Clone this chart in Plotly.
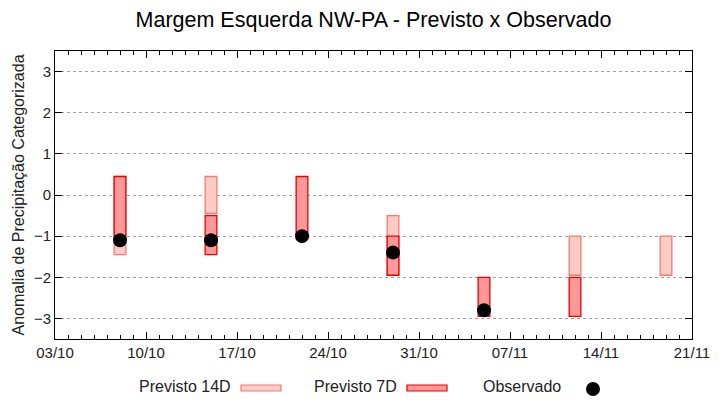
import plotly.graph_objects as go

# Data
dates = ["2023-10-08", "2023-10-15", "2023-10-22", "2023-10-29", "2023-11-05", "2023-11-12", "2023-11-19"]
prev14_low = [-1.45, -0.45, None, -1.95, None, -1.95, -1.95]
prev14_high = [0.45, 0.45, None, -0.5, None, -1.0, -1.0]
prev7_low = [-1.0, -1.45, -1.0, -1.95, -2.95, -2.95, None]
prev7_high = [0.45, -0.5, 0.45, -1.0, -2.0, -2.0, None]
obs_dates = ["2023-10-08", "2023-10-15", "2023-10-22", "2023-10-29", "2023-11-05"]
obs_vals = [-1.1, -1.1, -1.0, -1.4, -2.8]
y_ticks = [-3, -2, -1, 0, 1, 2, 3]

DAY = 86400000
FONT = "Liberation Sans, Arial, sans-serif"

def heights(lo, hi):
    return [None if (a is None or b is None) else b - a for a, b in zip(lo, hi)]

c14_fill, c14_line = "rgb(253,203,198)", "rgb(240,125,115)"
c7_fill, c7_line = "rgb(255,153,153)", "rgb(235,0,0)"

fig = go.Figure()
fig.add_trace(go.Bar(x=dates, y=heights(prev14_low, prev14_high), base=prev14_low,
                     width=0.9 * DAY, marker=dict(color=c14_fill, line=dict(color=c14_line, width=1.3)),
                     name="Previsto 14D", showlegend=False))
fig.add_trace(go.Bar(x=dates, y=heights(prev7_low, prev7_high), base=prev7_low,
                     width=0.9 * DAY, marker=dict(color=c7_fill, line=dict(color=c7_line, width=1.3)),
                     name="Previsto 7D", showlegend=False))
fig.add_trace(go.Scatter(x=obs_dates, y=obs_vals, mode="markers",
                         marker=dict(color="black", size=14), name="Observado", showlegend=False))

# Page body has an 8px default margin: figure is drawn from screen (8, 8)
OFF = 8
FIG_W, FIG_H = 720 - OFF, 400 - OFF
# plot area in screen pixels
plot_l, plot_r, plot_t, plot_b = 55, 692, 51, 339
W, H = plot_r - plot_l, plot_b - plot_t
def px(p): return (p - plot_l) / W
def py(p): return (plot_b - p) / H

leg_y = 386
items = [("Previsto 14D", 233, 261, "rect14"), ("Previsto 7D", 399, 427, "rect7"), ("Observado", 563, 593, "dot")]
shapes = []
annotations = []
for text, tx, sx, kind in items:
    annotations.append(dict(text=text, x=px(tx), y=py(leg_y), xref="paper", yref="paper",
                            xanchor="right", yanchor="middle", showarrow=False,
                            font=dict(family=FONT, size=16, color="#222")))
    if kind == "dot":
        shapes.append(dict(type="circle", xref="paper", yref="paper", xsizemode="pixel", ysizemode="pixel",
                           xanchor=px(sx), yanchor=py(leg_y + 3), x0=-7, x1=7, y0=-7, y1=7,
                           fillcolor="black", line=dict(color="black", width=0)))
    else:
        fc, lc = (c14_fill, c14_line) if kind == "rect14" else (c7_fill, c7_line)
        shapes.append(dict(type="rect", xref="paper", yref="paper", xsizemode="pixel", ysizemode="pixel",
                           xanchor=px(sx), yanchor=py(leg_y + 2), x0=-20, x1=20, y0=-3, y1=3,
                           fillcolor=fc, line=dict(color=lc, width=1.2)))

fig.update_layout(
    width=FIG_W, height=FIG_H,
    margin=dict(l=plot_l - OFF, r=720 - plot_r, t=plot_t - OFF, b=400 - plot_b, autoexpand=False),
    paper_bgcolor="white", plot_bgcolor="white",
    barmode="overlay", showlegend=False,
    title=dict(text="Margem Esquerda NW-PA - Previsto x Observado",
               x=((plot_l + plot_r) / 2 - OFF) / FIG_W,
               xanchor="center", y=1 - (19 - OFF) / FIG_H, yanchor="middle",
               font=dict(family=FONT, size=21.5, color="black")),
    font=dict(family=FONT, size=15, color="black"),
    shapes=shapes, annotations=annotations,
)
fig.update_xaxes(
    type="date", range=["2023-10-03", "2023-11-21"], automargin=False,
    tick0="2023-10-03", dtick=7 * DAY, tickformat="%d/%m",
    ticks="inside", ticklen=7, tickcolor="black", tickwidth=1,
    minor=dict(ticks="inside", dtick=DAY, ticklen=4, tickcolor="black", showgrid=False),
    showline=True, linecolor="black", linewidth=1, mirror="allticks",
    showgrid=False, zeroline=False, tickfont=dict(size=15, color="#222"),
)
fig.update_yaxes(
    range=[-3.5, 3.5], tickvals=y_ticks, automargin=False,
    ticks="inside", ticklen=7, tickcolor="black",
    showline=True, linecolor="black", linewidth=1, mirror="allticks",
    showgrid=True, gridcolor="rgb(160,160,160)", griddash="dot", gridwidth=1,
    zeroline=False, tickfont=dict(size=15, color="#222"),
    title=dict(text="Anomalia de Precipitação Categorizada", font=dict(size=16, color="#222"), standoff=5),
)

fig.write_html("out.html")
